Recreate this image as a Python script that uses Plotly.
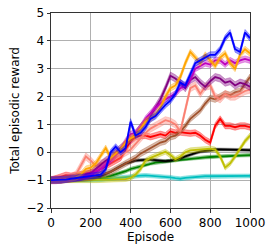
import plotly.graph_objects as go

episodes = list(range(0, 1001, 25))

blue = [-1, -1, -1, -0.98, -0.95, -0.93, -0.9, -0.88, -0.85, -0.83, -0.8, -0.6, 0.0, 0.2, 0.0, 0.15, 1.1, 0.6, 0.7, 0.9,
        1.2, 1.3, 1.5, 1.7, 1.85, 2.1, 2.5, 2.4, 2.8, 3.2, 3.3, 3.4, 3.5, 3.5, 3.7, 4.1, 4.3, 3.7, 3.6, 4.3, 4.1]
orange = [-1, -1, -1, -0.97, -0.95, -0.9, -0.8, -0.6, -0.55, -0.4, -0.1, 0.15, -0.2, -0.05, 0.1, 0.35, 0.5, 0.6, 0.85, 1.1,
          1.2, 1.35, 1.6, 2.0, 2.3, 2.4, 2.7, 3.2, 3.6, 3.4, 3.2, 3.5, 3.3, 3.1, 3.4, 3.55, 3.2, 3.0, 3.5, 3.7, 3.55]
magenta = [-1, -1, -1, -0.98, -0.95, -0.92, -0.88, -0.85, -0.8, -0.7, -0.6, -0.45, -0.3, -0.1, 0.1, 0.4, 0.65, 0.7, 0.9, 1.2,
           1.4, 1.6, 1.75, 1.9, 2.0, 2.1, 2.3, 2.4, 2.6, 3.0, 3.1, 3.2, 3.15, 3.3, 3.3, 3.15, 3.3, 3.2, 3.3, 3.35, 3.3]
purple = [-1, -1, -0.98, -0.95, -0.93, -0.9, -0.88, -0.82, -0.75, -0.6, -0.45, -0.3, -0.2, 0.0, 0.15, 0.3, 0.45, 0.65, 0.9, 1.1,
          1.3, 1.6, 1.9, 2.3, 2.75, 2.65, 2.5, 2.3, 2.6, 2.7, 2.5, 2.35, 2.55, 2.7, 2.65, 2.5, 2.55, 2.4, 2.5, 2.45, 2.35]
salmon = [-1, -0.97, -0.95, -0.92, -0.9, -0.8, -0.5, -0.15, -0.3, -0.5, -0.4, -0.35, -0.3, -0.2, -0.1, 0.0, 0.1, 0.3, 0.5, 0.7,
          0.85, 0.95, 1.05, 1.15, 1.1, 1.0, 0.75, 1.5, 2.3, 2.4, 2.1, 2.35, 2.4, 2.0, 1.9, 2.1, 2.0, 2.0, 2.1, 2.2, 2.25]
sienna = [-1, -1, -1, -0.98, -0.97, -0.95, -0.93, -0.92, -0.9, -0.85, -0.8, -0.75, -0.7, -0.6, -0.5, -0.4, -0.3, -0.2, -0.05, 0.05,
          0.15, 0.25, 0.35, 0.4, 0.55, 0.6, 0.75, 0.95, 1.2, 1.35, 1.5, 1.75, 1.95, 1.9, 2.0, 2.1, 2.05, 2.15, 2.2, 2.45, 2.7]
red = [-1, -0.95, -0.88, -0.82, -0.85, -0.83, -0.8, -0.78, -0.75, -0.7, -0.6, -0.5, -0.4, -0.3, -0.2, 0.1, 0.4, 0.55, 0.6, 0.6,
       0.55, 0.6, 0.65, 0.6, 0.75, 0.7, 0.72, 0.7, 0.68, 0.7, 0.6, 0.45, 0.35, 0.95, 1.2, 0.95, 0.95, 0.9, 0.95, 0.95, 0.9]
yellow = [-1, -1, -1, -1, -1, -1, -1, -1, -1, -1, -0.99, -0.98, -0.98, -0.97, -0.97, -0.96, -0.92, -0.8, -0.6, -0.3,
          -0.2, -0.12, -0.05, 0.02, -0.1, -0.25, -0.15, 0.0, 0.07, 0.08, 0.1, 0.12, 0.13, 0.1, -0.15, -0.55, -0.4, -0.15, 0.15, 0.4, 0.6]
black = [-1, -1, -1, -1, -0.98, -0.97, -0.95, -0.93, -0.92, -0.88, -0.85, -0.78, -0.7, -0.6, -0.5, -0.4, -0.35, -0.3, -0.28, -0.27,
         -0.26, -0.28, -0.3, -0.32, -0.3, -0.27, -0.22, -0.15, -0.08, -0.03, 0.02, 0.05, 0.07, 0.1, 0.1, 0.1, 0.1, 0.1, 0.09, 0.09, 0.08]
green = [-1, -1, -1, -1, -1, -1, -0.99, -0.98, -0.97, -0.95, -0.92, -0.9, -0.85, -0.8, -0.75, -0.68, -0.6, -0.55, -0.5, -0.45,
         -0.4, -0.37, -0.35, -0.33, -0.3, -0.28, -0.26, -0.24, -0.22, -0.2, -0.19, -0.18, -0.17, -0.16, -0.15, -0.13, -0.12, -0.11, -0.1, -0.1, -0.1]
cyan = [-1, -1, -1, -1, -1, -1, -1, -1, -1, -0.99, -0.98, -0.96, -0.94, -0.93, -0.92, -0.9, -0.88, -0.86, -0.84, -0.83,
        -0.84, -0.85, -0.87, -0.88, -0.9, -0.93, -0.95, -0.92, -0.9, -0.88, -0.87, -0.86, -0.86, -0.86, -0.85, -0.85, -0.85, -0.85, -0.85, -0.85, -0.85]

# (values, band half-width, color) in draw order
series = [
    (cyan, 0.07, (0, 191, 191)),
    (green, 0.06, (0, 128, 0)),
    (black, 0.05, (0, 0, 0)),
    (yellow, 0.09, (191, 191, 0)),
    (red, 0.11, (255, 0, 0)),
    (sienna, 0.11, (160, 82, 45)),
    (salmon, 0.13, (250, 128, 114)),
    (purple, 0.13, (128, 0, 128)),
    (magenta, 0.11, (191, 0, 191)),
    (orange, 0.11, (255, 165, 0)),
    (blue, 0.11, (0, 0, 255)),
]

fig = go.Figure()
for vals, sd, (r, g, b) in series:
    upper = [v + sd for v in vals]
    lower = [v - sd for v in vals]
    fig.add_trace(go.Scatter(x=episodes + episodes[::-1], y=upper + lower[::-1], fill="toself",
                             fillcolor=f"rgba({r},{g},{b},0.4)",
                             line=dict(width=0.6, color=f"rgba({r},{g},{b},0.5)"),
                             hoverinfo="skip", showlegend=False))
    fig.add_trace(go.Scatter(x=episodes, y=vals, mode="lines",
                             line=dict(color=f"rgb({r},{g},{b})", width=1.8),
                             showlegend=False))

font = dict(family="DejaVu Sans", size=12, color="black")
axis_common = dict(showline=True, mirror=True, linecolor="#333333", linewidth=1,
                   ticks="outside", ticklen=3.5, tickwidth=1, tickcolor="#333333",
                   showgrid=True, gridcolor="#b0b0b0", gridwidth=0.8, zeroline=False,
                   automargin=False, tickfont=font, ticklabeloverflow="allow")

fig.update_layout(
    width=274, height=252,
    margin=dict(l=51, r=24, t=13, b=44),
    plot_bgcolor="white", paper_bgcolor="white",
    xaxis=dict(range=[0, 1000], tickvals=[0, 200, 400, 600, 800, 1000],
               title=dict(text="Episode", font=font, standoff=2),
               **axis_common),
    yaxis=dict(range=[-2, 5], tickvals=[-2, -1, 0, 1, 2, 3, 4, 5],
               ticktext=["\u22122", "\u22121", "0", "1", "2", "3", "4", "5"],
               title=dict(text="Total episodic reward", font=font, standoff=4),
               **axis_common),
)

fig.write_html("out.html", config={"displayModeBar": False},
               post_script="document.body.style.margin='0';document.body.style.overflow='hidden';")
